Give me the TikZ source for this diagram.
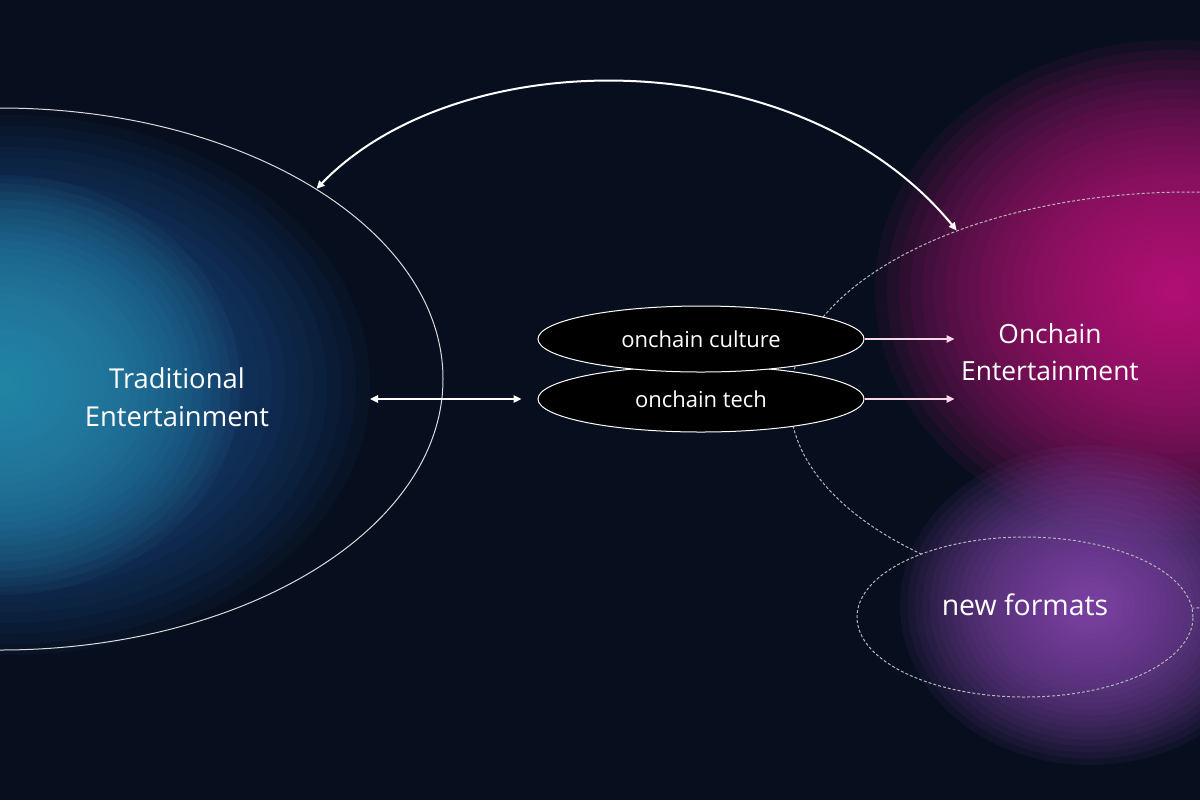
\documentclass[tikz,border=0pt]{standalone}
\usepackage{fontspec}
\setmainfont{Open Sans}
\usetikzlibrary{arrows.meta, positioning, shapes.geometric}
\definecolor{nightbg}{RGB}{7,15,30}
\definecolor{glowblue}{RGB}{30,85,150}
\definecolor{glowteal}{RGB}{45,145,175}
\definecolor{glowpink}{RGB}{200,25,130}
\definecolor{glowviolet}{RGB}{140,75,180}
\definecolor{arrowpink}{RGB}{245,215,230}

% soft glow: stacked translucent ellipses
\newcommand\glowspot[4]{%
  \foreach \k in {1,...,30}{
    \fill[#1, opacity=0.075] #2 ellipse [x radius={#3*pow(\k/30,1.2)}, y radius={#4*pow(\k/30,1.2)}];
  }}
\newcommand\drawglows{%
  \glowspot{glowblue}{(10,385)}{360}{270}
  \glowspot{glowteal}{(0,385)}{240}{210}
  \glowspot{glowpink}{(1175,290)}{300}{250}
  \glowspot{glowviolet}{(1090,605)}{190}{160}
}

\begin{document}
\begin{tikzpicture}[x=0.5pt, y=-0.5pt,
    >={Triangle[length=4pt, width=3.6pt]},
    hub/.style={ellipse, draw=white, line width=0.5pt, fill=black, text=white,
                minimum width=163pt, minimum height=33pt, inner sep=0pt,
                font=\fontsize{11}{13}\selectfont},
    realm/.style={ellipse, draw=white!85!nightbg, line width=0.5pt, inner sep=0pt},
    dashrealm/.style={realm, draw=white!70!nightbg, dash pattern=on 1.5pt off 1pt},
    title/.style={text=white, align=center, font=\fontsize{13.5}{19}\selectfont},
    arrow/.style={->, line width=1pt, white}
]
\useasboundingbox (0,0) rectangle (1200,800);
\fill[nightbg] (0,0) rectangle (1200,800);
\clip (0,0) rectangle (1200,800);
\drawglows

\node[realm, minimum width=443pt, minimum height=271pt] (trad) at (0,379) {};
\node[dashrealm, minimum width=400pt, minimum height=208pt] (onent) at (1190,400) {};

% new formats hides the big ring inside
\begin{scope}
  \clip (1025,617) ellipse [x radius=168, y radius=80];
  \fill[nightbg] (850,530) rectangle (1200,700);
  \drawglows
\end{scope}
\node[dashrealm, minimum width=168pt, minimum height=80pt] (newfmt) at (1025,617) {};

\node[title, font=\fontsize{13.7}{19}\selectfont] (tradlabel) at (177,397) {Traditional\\Entertainment};
\node[title, font=\fontsize{13.2}{18.5}\selectfont] (onlabel) at (1050,352) {Onchain\\Entertainment};
\node[title, font=\fontsize{14.2}{19}\selectfont] (nflabel) at (1025,605) {new formats};

\node[hub] (tech) at (701,399) {onchain tech};
\node[hub, above=-3.5pt of tech] (culture) {onchain culture};

\coordinate[right=45pt of culture.east] (culturetip);
\coordinate[right=45pt of tech.east] (techtip);
\coordinate (tradin) at (370,399);

\draw[arrow, arrowpink] (culture) -- (culturetip);
\draw[arrow, arrowpink] (tech) -- (techtip);
\draw[arrow, <->, shorten >=8pt] (tradin) -- (tech.west);
\draw[arrow, <->] (trad.31) .. controls (460,40) and (800,40) .. (onent.144);
\end{tikzpicture}
\end{document}
